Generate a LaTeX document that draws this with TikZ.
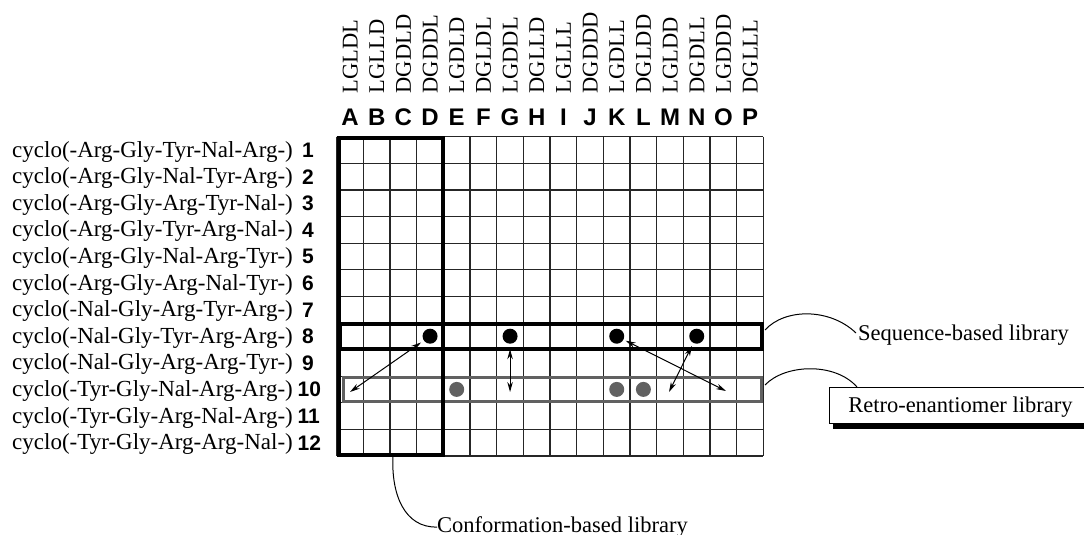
\documentclass[tikz,border=0pt]{standalone}
\usepackage{fontspec}
\setmainfont{Liberation Serif}
\newfontfamily\hsans{Liberation Sans}
\usetikzlibrary{arrows.meta,calc,shadows}

\begin{document}
\begin{tikzpicture}[x=1pt,y=-1pt,
  gridline/.style={draw=black!85, line width=1.2pt},
  confbox/.style={draw=black, line width=4pt},
  seqbox/.style={draw=black, line width=4pt},
  retrobox/.style={draw=black!62, line width=3.5pt},
  rowlabel/.style={anchor=base west, inner sep=0pt, font=\fontsize{23}{26}\selectfont},
  rownum/.style={anchor=base west, inner sep=0pt, font=\hsans\bfseries\fontsize{21}{24}\selectfont},
  collabel/.style={anchor=base, inner sep=0pt, font=\hsans\bfseries\fontsize{24}{26}\selectfont},
  coltag/.style={anchor=west, rotate=90, inner sep=0pt, text height=15pt, text depth=0pt, font=\fontsize{22.5}{26}\selectfont},
  hit/.style={circle, fill=black, minimum size=15pt, inner sep=0pt},
  echo/.style={circle, fill=black!62, minimum size=15pt, inner sep=0pt},
  link/.style={line width=1pt, {Stealth[length=10pt,width=5.5pt]}-{Stealth[length=10pt,width=5.5pt]}},
  callout/.style={line width=1pt},
  note/.style={anchor=base west, inner sep=0pt, text height=15pt, text depth=5pt, font=\fontsize{22.5}{26}\selectfont},
]
\useasboundingbox (0,0) rectangle (1084,535);
\fill[white] (0,0) rectangle (1084,535);

% grid geometry
\def\gx{336.7}
\def\gy{136.7}
\def\cw{26.67}
\def\ch{26.6}

% grid lines
\foreach \i in {0,...,16}
  \draw[gridline] ({\gx+\i*\cw},\gy) -- ({\gx+\i*\cw},{\gy+12*\ch});
\foreach \j in {0,...,12}
  \draw[gridline] (\gx,{\gy+\j*\ch}) -- ({\gx+16*\cw},{\gy+\j*\ch});

% column tags and letters
\foreach \t [count=\i] in {LGLDL,LGLLD,DGDLD,DGDDL,LGDLD,DGLDL,LGDDL,DGLLD,LGLLL,DGDDD,LGDLL,DGLDD,LGLDD,DGDLL,LGDDD,DGLLL}
  \node[coltag] (tag\i) at ({\gx+(\i-0.5)*\cw},93.5) {\t};
\foreach \l [count=\i] in {A,B,C,D,E,F,G,H,I,J,K,L,M,N,O,P}
  \node[collabel] (col\i) at ({\gx+(\i-0.5)*\cw},125) {\l};

% row labels
\foreach \s [count=\r] in {{cyclo(-Arg-Gly-Tyr-Nal-Arg-)},{cyclo(-Arg-Gly-Nal-Tyr-Arg-)},{cyclo(-Arg-Gly-Arg-Tyr-Nal-)},{cyclo(-Arg-Gly-Tyr-Arg-Nal-)},{cyclo(-Arg-Gly-Nal-Arg-Tyr-)},{cyclo(-Arg-Gly-Arg-Nal-Tyr-)},{cyclo(-Nal-Gly-Arg-Tyr-Arg-)},{cyclo(-Nal-Gly-Tyr-Arg-Arg-)},{cyclo(-Nal-Gly-Arg-Arg-Tyr-)},{cyclo(-Tyr-Gly-Nal-Arg-Arg-)},{cyclo(-Tyr-Gly-Arg-Nal-Arg-)},{cyclo(-Tyr-Gly-Arg-Arg-Nal-)}}
{
  \node[rowlabel] (row\r) at (12,{\gy+(\r-0.5)*\ch+7}) {\s};
  \pgfmathsetmacro\numx{\r<10 ? 302 : 297.5}
  \node[rownum] (num\r) at (\numx,{\gy+(\r-0.5)*\ch+7.5}) {\r};
}

% library frames
\draw[retrobox] (343.5,377.5) rectangle (761.5,401.5);
\draw[seqbox] (339.5,323.5) rectangle (761.5,348.5);
\draw[confbox] (338.5,138) rectangle (443,455);

% hits in the sequence-based row
\node[hit] (dD) at ({\gx+3.5*\cw},{\gy+7.5*\ch}) {};
\node[hit] (dG) at ({\gx+6.5*\cw},{\gy+7.5*\ch}) {};
\node[hit] (dK) at ({\gx+10.5*\cw},{\gy+7.5*\ch}) {};
\node[hit] (dN) at ({\gx+13.5*\cw},{\gy+7.5*\ch}) {};
% hits in the retro-enantiomer row
\node[echo] (eE) at ({\gx+4.5*\cw},{\gy+9.5*\ch}) {};
\node[echo] (eK) at ({\gx+10.5*\cw},{\gy+9.5*\ch}) {};
\node[echo] (eL) at ({\gx+11.5*\cw},{\gy+9.5*\ch}) {};

% correspondence arrows
\coordinate (aD) at (350,392);
\coordinate (aG) at ({\gx+6.5*\cw},392);
\coordinate (aK) at (726,391);
\coordinate (aN) at (669,392);
\draw[link] ($(dD)!11pt!(aD)$) -- (aD);
\draw[link] ($(dG)!13pt!(aG)$) -- (aG);
\draw[link] ($(dK)!10pt!(aK)$) -- (aK);
\draw[link] ($(dN)!11pt!(aN)$) -- (aN);

% callouts
\node[note] (seqlabel) at (858,340) {Sequence-based library};
\node[draw=black, line width=0.8pt, fill=white, anchor=north west,
      minimum width=262pt, minimum height=36pt, inner sep=0pt,
      text height=17pt, text depth=3pt, font=\fontsize{22.5}{26}\selectfont,
      drop shadow={shadow xshift=4pt, shadow yshift=-6pt, fill=black, opacity=1}]
      (retro) at (829,387) {Retro-enantiomer library};
\node[note] (conflabel) at (437,532) {Conformation-based library};

\coordinate (seqR) at (765,330);
\coordinate (retroR) at (765,385);
\coordinate (confB) at (393,456);
\draw[callout] (seqR) .. controls (785,308) and (830,308) .. ($(seqlabel.west)+(-2,-2)$);
\draw[callout] (retroR) .. controls (785,364) and (835,362) .. ($(retro.north west)+(28,0)$);
\draw[callout] (confB) .. controls (391,495) and (405,528) .. (conflabel.west);
\end{tikzpicture}
\end{document}
